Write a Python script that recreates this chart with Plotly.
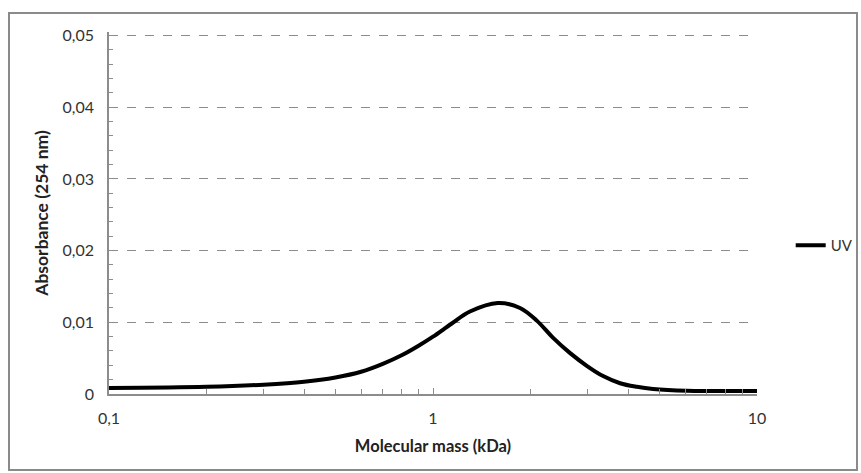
import plotly.graph_objects as go

# UV trace of the size-exclusion run (molecular mass in kDa vs absorbance at 254 nm)
mass_kda = [0.1, 0.2, 0.3, 0.4, 0.5, 0.6, 0.7, 0.8, 0.9, 1.0, 1.14, 1.30, 1.585,
            1.856, 2.095, 2.34, 2.65, 2.99, 3.35, 3.78, 4.26, 4.78, 6.08, 10.0]
absorbance = [0.00084, 0.0010, 0.0013, 0.0017, 0.0023, 0.0031, 0.0042, 0.0054, 0.0067,
              0.0080, 0.0098, 0.0115, 0.0127, 0.0120, 0.0102, 0.0079,
              0.0057, 0.0039, 0.0025, 0.0015, 0.0010, 0.0007, 0.00046, 0.00042]

y_ticks = [0, 0.01, 0.02, 0.03, 0.04, 0.05]
y_tick_text = ["0", "0,01", "0,02", "0,03", "0,04", "0,05"]
x_ticks = [0.1, 1, 10]
x_tick_text = ["0,1", "1", "10"]
x_minor_ticks = [0.2, 0.3, 0.4, 0.5, 0.6, 0.7, 0.8, 0.9, 2, 3, 4, 5, 6, 7, 8, 9]

grey = "#8c8c8c"
text_grey = "#333333"
font_family = "Lato, 'Open Sans', sans-serif"

fig = go.Figure()
fig.add_trace(go.Scatter(
    x=mass_kda, y=absorbance, mode="lines", name="UV",
    line=dict(color="black", width=4, shape="spline", smoothing=1.0),
))

# y range runs a hair past 0.05 so the top dashed gridline stays visible
y_top = 0.0505
top_margin = 32

fig.update_layout(
    width=861, height=473,
    margin=dict(l=109, r=104, t=top_margin, b=79, autoexpand=False),
    paper_bgcolor="white", plot_bgcolor="white",
    font=dict(family=font_family, size=16, color=text_grey),
    separators=", ",
    showlegend=True,
    legend=dict(x=1.052, y=0.41, xanchor="left", yanchor="middle",
                font=dict(size=15, color=text_grey), bgcolor="rgba(0,0,0,0)",
                itemwidth=30, borderwidth=0),
    # chart-area frame
    shapes=[dict(type="rect", xref="paper", yref="paper",
                 x0=-0.1543, x1=1.1543, y0=-0.2099, y1=1.0525,
                 line=dict(color="#8a8a8a", width=2), layer="above")],
)

fig.update_xaxes(
    type="log", range=[-1, 1],
    tickvals=x_ticks, ticktext=x_tick_text,
    ticks="inside", ticklen=6, tickcolor=grey, ticklabelstandoff=9,
    showline=True, linecolor=grey, linewidth=1.5,
    showgrid=False, zeroline=False,
    minor=dict(tickvals=x_minor_ticks, ticks="inside", ticklen=5,
               tickcolor=grey, showgrid=False),
    tickfont=dict(size=16, color=text_grey),
    title=dict(text="<b>Molecular mass (kDa)</b>",
               font=dict(size=16.5, color="#222222"), standoff=14),
)

fig.update_yaxes(
    range=[0, y_top],
    tickvals=y_ticks, ticktext=y_tick_text,
    ticks="", ticklabelstandoff=10,
    showline=True, linecolor=grey, linewidth=1.5,
    showgrid=True, gridcolor=grey, griddash="dash", gridwidth=1.3,
    zeroline=False,
    minor=dict(ticks="inside", ticklen=4, tickcolor=grey, dtick=0.002, showgrid=False),
    tickfont=dict(size=16, color=text_grey),
    title=dict(text="<b>Absorbance (254 nm)</b>",
               font=dict(size=17.5, color="#222222"), standoff=9),
)

# keep the page free of scrollbars so the full 861 px width is shown
fig.write_html(
    "out.html",
    post_script="document.documentElement.style.overflow='hidden';"
                "document.body.style.margin='0';document.body.style.overflow='hidden';",
)
